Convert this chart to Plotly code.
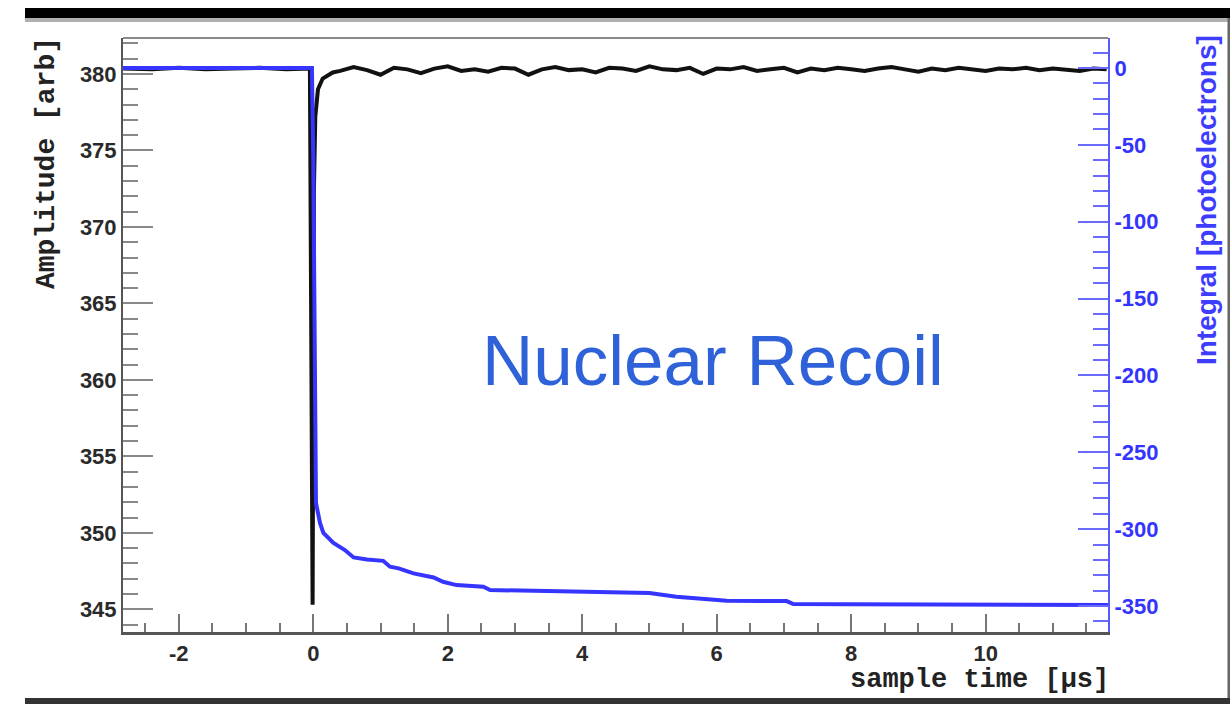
import plotly.graph_objects as go

# ---------------- data ----------------
# Amplitude trace (black, left axis)
black_t = [-2.83, -2.4, -2.0, -1.6, -1.2, -0.8, -0.4, -0.05, -0.01, 0.01, 0.03, 0.07, 0.14, 0.22, 0.29,
           0.4, 0.6, 0.8, 1.0, 1.2, 1.4, 1.6, 1.8, 2.0, 2.2,
           2.4, 2.6, 2.8, 3.0, 3.2, 3.4, 3.6, 3.8, 4.0, 4.2,
           4.4, 4.6, 4.8, 5.0, 5.2, 5.4, 5.6, 5.8, 6.0, 6.2,
           6.4, 6.6, 6.8, 7.0, 7.2, 7.4, 7.6, 7.8, 8.0, 8.2,
           8.4, 8.6, 8.8, 9.0, 9.2, 9.4, 9.6, 9.8, 10.0, 10.2,
           10.4, 10.6, 10.8, 11.0, 11.2, 11.4, 11.6, 11.8]
black_v = [380.35, 380.3, 380.4, 380.3, 380.35, 380.4, 380.3, 380.35, 345.3, 372.5, 377.2, 379.0, 379.7, 379.9, 380.1,
           380.2, 380.45, 380.25, 379.95, 380.4, 380.3, 380.05, 380.35, 380.5, 380.2,
           380.3, 380.15, 380.4, 380.35, 379.95, 380.3, 380.45, 380.25, 380.3, 380.1,
           380.4, 380.35, 380.2, 380.5, 380.3, 380.25, 380.4, 380.0, 380.35, 380.3,
           380.45, 380.2, 380.3, 380.4, 380.1, 380.35, 380.25, 380.4, 380.3, 380.2,
           380.35, 380.45, 380.3, 380.15, 380.35, 380.25, 380.4, 380.3, 380.2, 380.35,
           380.3, 380.4, 380.25, 380.35, 380.3, 380.2, 380.35, 380.3]

# Integral trace (blue, right axis)
blue_t = [-2.83, -0.02, 0.0, 0.02, 0.04, 0.1, 0.15, 0.3, 0.47, 0.6, 0.8, 1.04, 1.14, 1.27, 1.49,
          1.79, 1.93, 2.13, 2.53, 2.63, 3.2, 3.8, 4.36, 5.0, 5.4, 5.65, 6.15, 7.04, 7.14,
          8.0, 9.0, 10.0, 11.0, 11.82]
blue_v = [0, 0, -60, -200, -283, -296, -302.5, -309, -313.6, -318.4, -319.8, -320.6, -324.4, -325.5, -328.8,
          -331.4, -334.2, -336.4, -337.5, -339.6, -340.0, -340.4, -340.7, -341.5, -344.0, -345.0, -346.6, -346.8, -348.7,
          -348.8, -349.0, -349.1, -349.3, -349.4]

x_tickvals = [-2, 0, 2, 4, 6, 8, 10]
x_ticktext = ["-2", "0", "2", "4", "6", "8", "10"]
y_tickvals = [345, 350, 355, 360, 365, 370, 375, 380]
y_ticktext = ["345", "350", "355", "360", "365", "370", "375", "380"]
y2_tickvals = [0, -50, -100, -150, -200, -250, -300, -350]
y2_ticktext = ["0", "-50", "-100", "-150", "-200", "-250", "-300", "-350"]

# ---------------- figure ----------------
W, H = 1230, 704
L, R, T, B = 123, 1108, 38, 632


def px(x):
    return (x - L) / (R - L)


def py(y):
    return (B - y) / (B - T)


BLUE = "#3535ff"
TICKFONT = dict(family="Liberation Sans", size=22, color="#2a2a2a", weight="bold")

fig = go.Figure()
fig.add_trace(go.Scatter(x=black_t, y=black_v, mode="lines",
                         line=dict(color="#111111", width=4), yaxis="y", showlegend=False))
fig.add_trace(go.Scatter(x=blue_t, y=blue_v, mode="lines",
                         line=dict(color=BLUE, width=4), yaxis="y2", showlegend=False))

fig.update_layout(
    width=W, height=H, autosize=False,
    margin=dict(l=L, r=W - R, t=T, b=H - B, pad=0),
    paper_bgcolor="white", plot_bgcolor="white",
    xaxis=dict(range=[-2.83, 11.82], showgrid=False, zeroline=False,
               showline=True, linecolor="#555555", linewidth=3,
               ticks="inside", ticklen=18, tickwidth=2, tickcolor="#777777",
               tickmode="array", tickvals=x_tickvals, ticktext=x_ticktext,
               tickfont=TICKFONT,
               minor=dict(dtick=0.5, tick0=0, ticks="inside", ticklen=9, tickwidth=2, tickcolor="#777777")),
    yaxis=dict(range=[343.52, 382.35], showgrid=False, zeroline=False,
               showline=True, linecolor="#555555", linewidth=2,
               ticks="inside", ticklen=30, tickwidth=2, tickcolor="#888888",
               tickmode="array", tickvals=y_tickvals, ticktext=y_ticktext,
               tickfont=TICKFONT,
               minor=dict(dtick=1, tick0=0, ticks="inside", ticklen=15, tickwidth=2, tickcolor="#888888")),
    yaxis2=dict(range=[-366.9, 19.5], overlaying="y", side="right", showgrid=False, zeroline=False,
                showline=True, linecolor="#5a5aff", linewidth=2,
                ticks="inside", ticklen=30, tickwidth=2, tickcolor="#6a6aff",
                tickmode="array", tickvals=y2_tickvals, ticktext=y2_ticktext,
                tickfont=dict(family="Liberation Sans", size=22, color="#3434ff", weight="bold"),
                minor=dict(dtick=10, tick0=0, ticks="inside", ticklen=15, tickwidth=2, tickcolor="#6a6aff")),
    annotations=[
        dict(text="Nuclear Recoil", x=px(713), y=py(360), xref="paper", yref="paper",
             xanchor="center", yanchor="middle", showarrow=False,
             font=dict(family="Liberation Sans", size=71, color="#2f62d8")),
        dict(text="Amplitude [arb]", x=px(46), y=py(35), xref="paper", yref="paper",
             xanchor="center", yanchor="top", textangle=-90, showarrow=False,
             font=dict(family="Liberation Mono", size=28, color="#222222", weight="bold")),
        dict(text="sample time [µs]", x=px(1111), y=py(680), xref="paper", yref="paper",
             xanchor="right", yanchor="middle", showarrow=False,
             font=dict(family="Liberation Mono", size=27, color="#222222", weight="bold")),
        dict(text="Integral [photoelectrons]", x=px(1206), y=py(33), xref="paper", yref="paper",
             xanchor="center", yanchor="top", textangle=-90, showarrow=False,
             font=dict(family="Liberation Sans", size=28, color="#3d3dff", weight="bold")),
    ],
    shapes=[
        # top frame line
        dict(type="line", xref="paper", yref="paper", x0=0, x1=1, y0=1, y1=1,
             line=dict(color="#8a8a8a", width=2)),
        # screenshot border: top black bar
        dict(type="rect", xref="paper", yref="paper", x0=px(25), x1=px(1230), y0=py(18), y1=py(8),
             fillcolor="black", line=dict(width=0)),
        dict(type="rect", xref="paper", yref="paper", x0=px(25), x1=px(1230), y0=py(22), y1=py(18),
             fillcolor="#b0b0b0", line=dict(width=0)),
        # bottom bar
        dict(type="rect", xref="paper", yref="paper", x0=px(25), x1=px(1230), y0=py(704), y1=py(698),
             fillcolor="#333333", line=dict(width=0)),
        # right edge line
        dict(type="rect", xref="paper", yref="paper", x0=px(1227.5), x1=px(1230), y0=py(698), y1=py(18),
             fillcolor="#666666", line=dict(width=0)),
    ],
)

fig.write_html("out.html")
